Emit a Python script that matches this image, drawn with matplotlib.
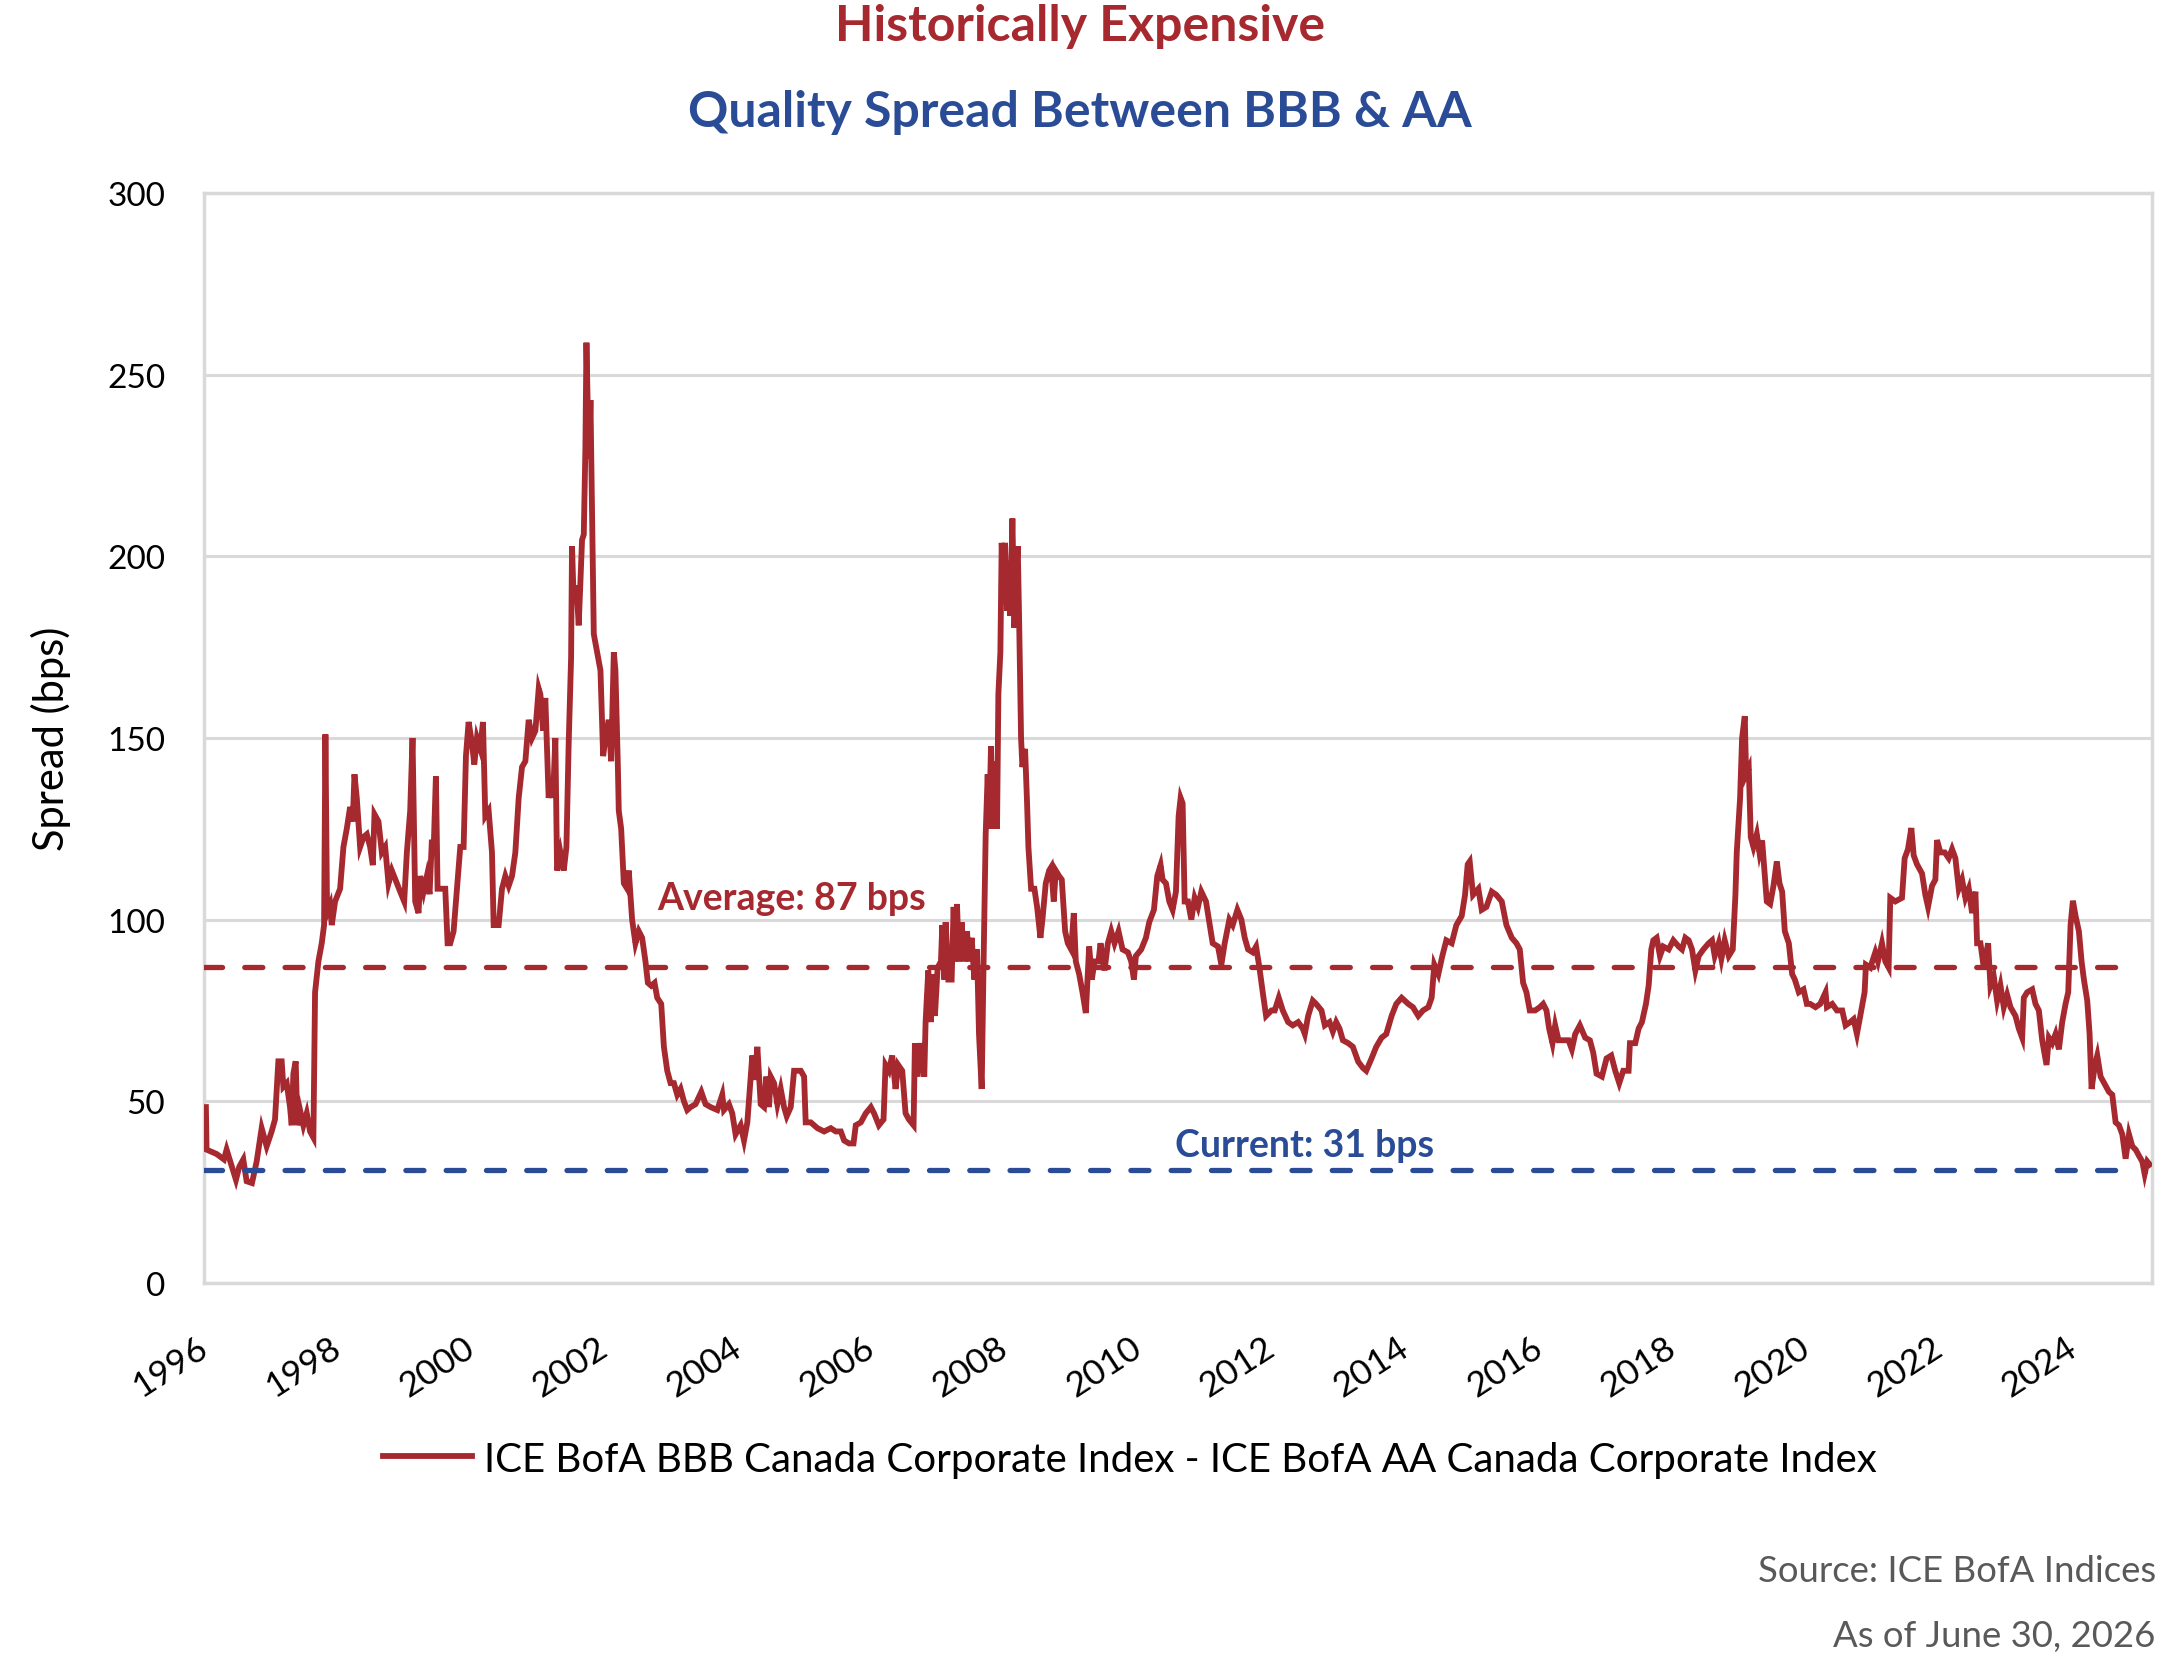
import matplotlib
matplotlib.use("Agg")
import matplotlib.pyplot as plt
import numpy as np

plt.rcParams['font.family'] = ['Lato', 'DejaVu Sans']
plt.rcParams['lines.scale_dashes'] = False

# spread series (x in chart years, y in bps)
years = [
    1996.03, 1996.04, 1996.19, 1996.30, 1996.34, 1996.42, 1996.48, 1996.53, 1996.59, 1996.64,
    1996.72, 1996.79, 1996.865, 1996.94, 1997.015, 1997.065, 1997.115, 1997.165, 1997.19, 1997.24,
    1997.29, 1997.315, 1997.34, 1997.375, 1997.40, 1997.44, 1997.49, 1997.54, 1997.59, 1997.64,
    1997.665, 1997.715, 1997.765, 1997.80, 1997.82, 1997.845, 1997.89, 1997.915, 1997.965, 1998.04,
    1998.09, 1998.14, 1998.19, 1998.23, 1998.255, 1998.29, 1998.34, 1998.39, 1998.44, 1998.49,
    1998.53, 1998.555, 1998.615, 1998.665, 1998.715, 1998.765, 1998.815, 1998.89, 1998.94, 1999.00,
    1999.04, 1999.09, 1999.125, 1999.165, 1999.215, 1999.24, 1999.29, 1999.34, 1999.38, 1999.415,
    1999.44, 1999.475, 1999.50, 1999.565, 1999.615, 1999.65, 1999.69, 1999.74, 1999.79, 1999.84,
    1999.89, 1999.925, 1999.965, 2000.015, 2000.05, 2000.09, 2000.14, 2000.18, 2000.215, 2000.265,
    2000.315, 2000.34, 2000.415, 2000.465, 2000.515, 2000.565, 2000.615, 2000.665, 2000.715, 2000.765,
    2000.815, 2000.865, 2000.915, 2000.965, 2001.015, 2001.04, 2001.08, 2001.114, 2001.164, 2001.20,
    2001.23, 2001.264, 2001.29, 2001.34, 2001.39, 2001.43, 2001.464, 2001.50, 2001.514, 2001.54,
    2001.58, 2001.614, 2001.64, 2001.664, 2001.69, 2001.714, 2001.73, 2001.75, 2001.77, 2001.79,
    2001.814, 2001.84, 2001.89, 2001.94, 2001.98, 2002.014, 2002.064, 2002.10, 2002.14, 2002.164,
    2002.20, 2002.214, 2002.25, 2002.29, 2002.34, 2002.364, 2002.414, 2002.464, 2002.514, 2002.564,
    2002.614, 2002.65, 2002.70, 2002.75, 2002.79, 2002.85, 2002.89, 2002.94, 2002.99, 2003.04,
    2003.09, 2003.14, 2003.19, 2003.24, 2003.29, 2003.364, 2003.45, 2003.514, 2003.59, 2003.69,
    2003.764, 2003.79, 2003.864, 2003.914, 2003.964, 2004.04, 2004.09, 2004.14, 2004.19, 2004.214,
    2004.25, 2004.29, 2004.34, 2004.39, 2004.424, 2004.464, 2004.49, 2004.54, 2004.59, 2004.64,
    2004.69, 2004.73, 2004.79, 2004.84, 2004.94, 2004.99, 2005.014, 2005.09, 2005.14, 2005.19,
    2005.29, 2005.39, 2005.464, 2005.54, 2005.59, 2005.664, 2005.73, 2005.764, 2005.84, 2005.914,
    2005.99, 2006.038, 2006.11, 2006.18, 2006.21, 2006.26, 2006.31, 2006.36, 2006.40, 2006.46,
    2006.51, 2006.56, 2006.63, 2006.65, 2006.69, 2006.74, 2006.79, 2006.81, 2006.85, 2006.89,
    2006.91, 2006.95, 2006.99, 2007.04, 2007.06, 2007.09, 2007.11, 2007.15, 2007.20, 2007.23,
    2007.25, 2007.28, 2007.31, 2007.35, 2007.39, 2007.43, 2007.46, 2007.50, 2007.54, 2007.58,
    2007.61, 2007.65, 2007.68, 2007.71, 2007.74, 2007.76, 2007.79, 2007.81, 2007.85, 2007.88,
    2007.90, 2007.93, 2007.95, 2007.98, 2008.00, 2008.03, 2008.05, 2008.08, 2008.11, 2008.14,
    2008.16, 2008.19, 2008.21, 2008.24, 2008.26, 2008.30, 2008.33, 2008.35, 2008.39, 2008.44,
    2008.48, 2008.53, 2008.56, 2008.61, 2008.66, 2008.69, 2008.73, 2008.76, 2008.81, 2008.85,
    2008.90, 2008.94, 2008.99, 2009.03, 2009.06, 2009.11, 2009.16, 2009.21, 2009.26, 2009.30,
    2009.34, 2009.40, 2009.43, 2009.49, 2009.54, 2009.59, 2009.64, 2009.70, 2009.76, 2009.84,
    2009.89, 2009.93, 2009.96, 2010.04, 2010.11, 2010.16, 2010.23, 2010.28, 2010.33, 2010.36,
    2010.41, 2010.46, 2010.51, 2010.56, 2010.60, 2010.63, 2010.66, 2010.69, 2010.74, 2010.79,
    2010.84, 2010.89, 2010.94, 2011.01, 2011.06, 2011.11, 2011.19, 2011.24, 2011.29, 2011.36,
    2011.41, 2011.48, 2011.54, 2011.59, 2011.64, 2011.71, 2011.76, 2011.81, 2011.86, 2011.91,
    2011.99, 2012.04, 2012.10, 2012.16, 2012.24, 2012.31, 2012.39, 2012.46, 2012.49, 2012.54,
    2012.61, 2012.66, 2012.74, 2012.79, 2012.86, 2012.91, 2012.96, 2013.01, 2013.06, 2013.14,
    2013.21, 2013.29, 2013.36, 2013.41, 2013.49, 2013.56, 2013.64, 2013.71, 2013.79, 2013.86,
    2013.94, 2014.04, 2014.11, 2014.19, 2014.26, 2014.34, 2014.39, 2014.43, 2014.49, 2014.55,
    2014.61, 2014.69, 2014.76, 2014.84, 2014.89, 2014.93, 2014.96, 2015.01, 2015.09, 2015.14,
    2015.21, 2015.29, 2015.36, 2015.44, 2015.51, 2015.59, 2015.66, 2015.71, 2015.76, 2015.81,
    2015.86, 2015.94, 2016.01, 2016.06, 2016.11, 2016.15, 2016.20, 2016.24, 2016.29, 2016.36,
    2016.44, 2016.49, 2016.54, 2016.61, 2016.69, 2016.76, 2016.81, 2016.86, 2016.94, 2017.01,
    2017.08, 2017.14, 2017.20, 2017.26, 2017.34, 2017.36, 2017.44, 2017.49, 2017.54, 2017.60,
    2017.64, 2017.68, 2017.71, 2017.76, 2017.81, 2017.86, 2017.94, 2018.01, 2018.09, 2018.14,
    2018.19, 2018.24, 2018.29, 2018.34, 2018.39, 2018.46, 2018.54, 2018.59, 2018.63, 2018.69,
    2018.73, 2018.78, 2018.84, 2018.90, 2018.94, 2018.96, 2019.01, 2019.04, 2019.08, 2019.10,
    2019.14, 2019.17, 2019.21, 2019.26, 2019.30, 2019.34, 2019.38, 2019.41, 2019.46, 2019.51,
    2019.56, 2019.60, 2019.64, 2019.68, 2019.74, 2019.79, 2019.83, 2019.89, 2019.96, 2020.01,
    2020.06, 2020.14, 2020.21, 2020.29, 2020.31, 2020.39, 2020.46, 2020.54, 2020.59, 2020.66,
    2020.71, 2020.76, 2020.81, 2020.875, 2020.895, 2020.96, 2021.035, 2021.075, 2021.135, 2021.185,
    2021.235, 2021.26, 2021.335, 2021.435, 2021.475, 2021.525, 2021.575, 2021.61, 2021.66, 2021.735,
    2021.785, 2021.825, 2021.885, 2021.935, 2021.96, 2022.01, 2022.075, 2022.135, 2022.185, 2022.235,
    2022.285, 2022.335, 2022.385, 2022.435, 2022.485, 2022.535, 2022.56, 2022.61, 2022.66, 2022.725,
    2022.76, 2022.81, 2022.86, 2022.91, 2022.96, 2023.01, 2023.06, 2023.135, 2023.185, 2023.235,
    2023.26, 2023.31, 2023.385, 2023.435, 2023.485, 2023.535, 2023.60, 2023.635, 2023.685, 2023.735,
    2023.785, 2023.835, 2023.885, 2023.925, 2023.96, 2023.995, 2024.035, 2024.085, 2024.125, 2024.16,
    2024.21, 2024.245, 2024.275, 2024.325, 2024.36, 2024.41, 2024.485, 2024.535, 2024.585, 2024.635,
    2024.685, 2024.735, 2024.785, 2024.835, 2024.885, 2024.935, 2024.985, 2025.035, 2025.07, 2025.11,
    2025.145,
]
spread = [
    48.4, 36.7, 35.5, 34.0, 36.7, 32.0, 28.4, 32.0, 34.0, 28.0,
    27.5, 33.4, 42.6, 37.6, 41.7, 45.0, 61.0, 61.0, 54.0, 55.0,
    48.4, 43.4, 57.6, 61.0, 43.4, 47.6, 43.4, 46.7, 41.7, 40.0,
    80.0, 88.5, 93.5, 98.5, 151.0, 101.8, 104.0, 98.5, 105.0, 108.5,
    120.0, 125.0, 131.0, 127.0, 140.0, 133.5, 120.0, 122.7, 123.5, 120.0,
    115.0, 129.0, 127.0, 118.5, 120.0, 110.0, 113.5, 110.0, 107.7, 105.0,
    118.5, 130.0, 150.0, 105.0, 101.8, 112.0, 107.7, 112.0, 107.0, 122.0,
    118.5, 139.4, 108.5, 108.5, 108.5, 93.5, 93.5, 96.8, 108.5, 120.0,
    120.0, 145.0, 154.4, 148.6, 142.7, 150.0, 147.0, 154.4, 128.5, 130.0,
    118.5, 98.5, 98.5, 108.5, 112.0, 109.3, 112.0, 118.5, 133.5, 142.0,
    143.6, 155.0, 150.0, 152.0, 163.6, 162.0, 152.0, 161.0, 133.5, 138.6,
    133.5, 150.0, 113.5, 118.5, 113.5, 120.0, 148.6, 172.0, 202.8, 187.0,
    192.0, 181.0, 193.0, 204.5, 206.0, 229.5, 258.8, 240.4, 227.0, 243.0,
    212.0, 178.6, 173.6, 168.6, 145.0, 150.0, 155.0, 143.6, 173.6, 168.6,
    142.7, 130.0, 125.0, 110.0, 108.5, 113.5, 100.0, 93.5, 96.8, 95.0,
    88.5, 82.6, 81.8, 82.6, 78.5, 76.8, 65.0, 58.4, 55.0, 55.0,
    51.8, 53.4, 50.0, 47.6, 48.4, 49.2, 52.6, 49.2, 48.4, 47.6,
    51.8, 47.6, 49.2, 46.7, 40.9, 43.4, 39.2, 44.2, 56.8, 62.6,
    55.9, 65.0, 49.2, 48.4, 56.8, 48.4, 56.8, 55.0, 49.2, 53.4,
    48.4, 45.9, 48.4, 58.4, 58.4, 56.8, 44.2, 44.2, 43.4, 42.6,
    41.7, 42.6, 41.7, 41.7, 39.2, 38.4, 38.4, 43.4, 44.2, 46.7,
    48.4, 46.7, 43.4, 45.0, 60.0, 58.4, 62.6, 53.4, 60.0, 58.4,
    46.7, 45.0, 43.4, 66.0, 56.8, 66.0, 56.8, 71.8, 86.0, 71.8,
    85.0, 73.5, 86.8, 88.5, 98.5, 83.5, 99.3, 83.5, 83.5, 103.5,
    88.5, 104.3, 88.5, 99.3, 88.5, 96.8, 88.5, 95.0, 83.5, 91.8,
    68.5, 53.4, 90.0, 123.5, 140.0, 125.0, 147.7, 125.0, 143.6, 125.0,
    162.0, 173.6, 203.7, 188.6, 203.7, 185.0, 198.7, 183.6, 210.4, 180.3,
    192.0, 202.8, 183.6, 150.0, 142.0, 147.0, 132.0, 120.0, 108.5, 108.5,
    103.5, 95.0, 100.0, 110.0, 113.5, 114.4, 105.0, 113.5, 112.0, 111.0,
    96.8, 93.5, 91.8, 101.8, 88.5, 85.0, 80.0, 74.3, 92.6, 83.5,
    88.5, 88.5, 93.5, 86.0, 93.5, 96.8, 93.5, 96.8, 91.8, 91.0,
    88.5, 83.5, 90.0, 91.8, 95.0, 99.3, 102.7, 112.0, 115.0, 111.0,
    110.0, 105.0, 102.7, 107.7, 128.5, 133.5, 132.0, 105.0, 105.0, 100.0,
    106.0, 103.5, 107.7, 105.0, 99.3, 93.5, 92.6, 87.6, 93.5, 100.0,
    98.5, 102.7, 100.0, 95.0, 91.8, 91.0, 92.6, 86.8, 80.0, 73.5,
    75.0, 75.0, 78.5, 75.0, 71.8, 70.9, 71.8, 70.0, 68.5, 73.5,
    77.7, 76.8, 75.0, 70.9, 71.8, 69.2, 71.8, 70.0, 66.8, 66.0,
    65.0, 60.9, 59.2, 58.4, 61.8, 65.0, 67.5, 68.5, 73.5, 76.8,
    78.5, 76.8, 75.9, 73.5, 75.0, 75.9, 78.5, 87.6, 85.0, 90.0,
    94.3, 93.5, 98.5, 101.0, 106.8, 115.2, 116.0, 106.8, 108.5, 102.7,
    103.5, 107.7, 106.8, 105.0, 98.5, 95.0, 93.5, 91.8, 82.6, 80.0,
    75.0, 75.0, 75.9, 76.8, 75.0, 70.0, 66.0, 70.9, 66.8, 66.8,
    66.8, 64.3, 68.5, 70.9, 67.5, 66.8, 63.4, 57.6, 56.8, 61.8,
    62.6, 58.4, 55.0, 58.4, 58.4, 66.0, 66.0, 70.0, 71.8, 76.8,
    81.8, 91.8, 94.3, 95.0, 90.0, 92.6, 91.8, 94.3, 92.6, 91.8,
    95.0, 94.3, 91.8, 86.0, 90.0, 91.8, 93.5, 94.3, 90.0, 93.5,
    89.3, 94.3, 90.0, 91.8, 106.8, 118.5, 133.5, 150.0, 156.0, 140.0,
    141.7, 122.7, 120.0, 123.5, 118.5, 121.8, 112.0, 105.0, 104.3, 109.3,
    116.0, 110.0, 107.7, 96.8, 93.5, 85.0, 83.5, 80.0, 80.8, 76.8,
    76.8, 75.9, 76.8, 80.0, 75.9, 76.8, 75.0, 75.0, 70.9, 71.8,
    72.6, 68.5, 73.5, 80.0, 87.6, 86.8, 91.0, 88.5, 93.5, 88.5,
    86.8, 106.0, 105.0, 106.0, 116.9, 119.4, 125.2, 117.7, 115.2, 112.7,
    106.8, 103.5, 109.3, 111.0, 121.9, 118.5, 118.5, 116.9, 119.4, 116.9,
    108.5, 111.0, 106.0, 108.5, 101.8, 107.7, 93.5, 93.5, 86.8, 93.5,
    81.8, 84.3, 77.7, 81.8, 75.9, 79.3, 75.9, 73.5, 70.0, 67.5,
    78.5, 80.0, 80.8, 76.8, 75.0, 66.8, 60.0, 67.5, 66.0, 68.5,
    64.3, 71.8, 76.8, 80.0, 98.5, 105.2, 101.0, 96.8, 88.5, 83.5,
    77.7, 68.5, 53.4, 60.0, 62.6, 56.8, 54.3, 52.6, 51.8, 44.2,
    43.4, 40.9, 34.2, 40.9, 37.6, 36.7, 35.0, 33.4, 30.0, 33.4,
    32.6,
]

average_bps = 87
current_bps = 31
ref_line_end = 2024.83
tick_years = list(range(1996, 2025, 2))

red = '#A6292F'
blue = '#2A4C96'
grid_c = '#D9D9D9'

fig = plt.figure(figsize=(21.6, 16.58), dpi=100)
ax = fig.add_axes([0.0944, 0.2256, 0.9019, 0.6574])

ax.plot(years, spread, color=red, lw=4.2, solid_joinstyle='miter', zorder=3,
        label='ICE BofA BBB Canada Corporate Index - ICE BofA AA Canada Corporate Index')
ax.plot([1996, ref_line_end], [average_bps, average_bps], color=red, lw=3.8,
        dashes=(13, 16), dash_capstyle='round', zorder=4)
ax.plot([1996, ref_line_end], [current_bps, current_bps], color=blue, lw=3.8,
        dashes=(13, 16), dash_capstyle='round', zorder=4)

ax.text(2002.79, 106, f'Average: {average_bps} bps', color=red, fontsize=27,
        fontweight='bold', va='center', ha='left')
ax.text(2010.55, 38, f'Current: {current_bps} bps', color=blue, fontsize=27,
        fontweight='bold', va='center', ha='left')

ax.set_xlim(1996, 2025.18)
ax.set_ylim(0, 300)
ax.set_yticks(np.arange(0, 301, 50))
ax.set_xticks(tick_years)
ax.set_xticklabels([str(y) for y in tick_years], rotation=33, ha='right',
                   va='center', rotation_mode='anchor')
ax.tick_params(axis='both', length=0)
ax.tick_params(axis='y', labelsize=24, pad=28)
ax.tick_params(axis='x', labelsize=25.5, pad=44)
ax.grid(axis='y', color=grid_c, lw=2.2)
ax.set_axisbelow(True)
for s in ax.spines.values():
    s.set_color(grid_c)
    s.set_linewidth(2.5)

ax.set_ylabel('Spread (bps)', fontsize=30, labelpad=26)

fig.text(0.5, 0.984, 'Historically Expensive', color=red, fontsize=36,
         fontweight='bold', ha='center', va='center')
fig.text(0.5, 0.932, 'Quality Spread Between BBB & AA', color=blue, fontsize=36,
         fontweight='bold', ha='center', va='center')

fig.legend(loc='center', bbox_to_anchor=(0.523, 0.1194), frameon=False,
           fontsize=29, handlelength=2.2, handletextpad=0.3)

fig.text(0.998, 0.0519, 'Source: ICE BofA Indices', color='#595959', fontsize=26.3,
         ha='right', va='center')
fig.text(0.998, 0.0127, 'As of June 30, 2026', color='#595959', fontsize=26.3,
         ha='right', va='center')

fig.savefig('out.png', dpi=100)
